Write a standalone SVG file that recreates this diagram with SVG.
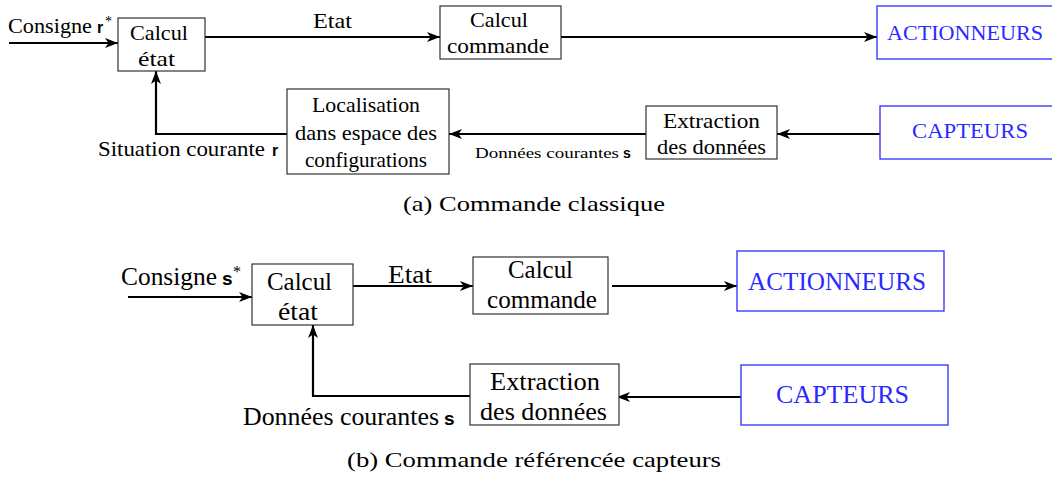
<svg xmlns="http://www.w3.org/2000/svg" width="1052" height="479" viewBox="0 0 1052 479">
  <style>
    .box { fill: #fff; stroke: #333; stroke-width: 1.2; }
    .bbox { fill: #fff; stroke: #3b3bff; stroke-width: 1.4; }
    .t { font-family: "Liberation Serif", "Times New Roman", serif; fill: #000; }
    .bt { font-family: "Liberation Serif", "Times New Roman", serif; fill: #2a2aff; }
    .v { font-family: "Liberation Sans", Arial, sans-serif; font-weight: bold; }
    .s1 { font-size: 21px; }
    .s2 { font-size: 25px; }
    .sm { font-size: 15px; }
    .c { text-anchor: middle; }
    .wire { fill: none; stroke: #000; stroke-width: 2.2; }
  </style>
  <defs>
    <marker id="arr" viewBox="0 0 13 10" refX="13" refY="5" markerWidth="13" markerHeight="10" orient="auto" markerUnits="userSpaceOnUse">
      <path d="M0,0 L13,5 L0,10 L3.5,5 z" fill="#000"/>
    </marker>
  </defs>

  <!-- ===== (a) classic control ===== -->
  <g id="connectors-a">
    <line class="wire" x1="9" y1="43" x2="118" y2="43" marker-end="url(#arr)"/>
    <line class="wire" x1="205" y1="37" x2="440" y2="37" marker-end="url(#arr)"/>
    <line class="wire" x1="561" y1="37" x2="877" y2="37" marker-end="url(#arr)"/>
    <line class="wire" x1="880" y1="134" x2="777" y2="134" marker-end="url(#arr)"/>
    <line class="wire" x1="646" y1="134" x2="449" y2="134" marker-end="url(#arr)"/>
    <polyline class="wire" points="287,134 156,134 156,71" marker-end="url(#arr)"/>
  </g>

  <g id="labels-a">
    <text class="t s1" x="8" y="33" textLength="84" lengthAdjust="spacingAndGlyphs">Consigne</text>
    <text class="v" x="97" y="33" font-size="16">r</text>
    <text class="t" x="105" y="26" font-size="14">*</text>
    <text class="t s1" x="313" y="28" textLength="39" lengthAdjust="spacingAndGlyphs">Etat</text>
    <text class="t s1" x="98" y="156" textLength="167" lengthAdjust="spacingAndGlyphs">Situation courante</text>
    <text class="v" x="272" y="156" font-size="16">r</text>
    <text class="t sm" x="475" y="158" textLength="144" lengthAdjust="spacingAndGlyphs">Données courantes</text>
    <text class="v" x="623" y="158" font-size="14">s</text>
  </g>

  <g id="calcul-etat-a">
    <rect class="box" x="118" y="18" width="87" height="53"/>
    <text class="t s1" x="130" y="40" textLength="58" lengthAdjust="spacingAndGlyphs">Calcul</text>
    <text class="t s1" x="138" y="66" textLength="37" lengthAdjust="spacingAndGlyphs">état</text>
  </g>
  <g id="calcul-commande-a">
    <rect class="box" x="440" y="6" width="121" height="53"/>
    <text class="t s1" x="470" y="27" textLength="58" lengthAdjust="spacingAndGlyphs">Calcul</text>
    <text class="t s1" x="447" y="53" textLength="102" lengthAdjust="spacingAndGlyphs">commande</text>
  </g>
  <g id="actionneurs-a">
    <rect class="bbox" x="877" y="6" width="180" height="53"/>
    <text class="bt s1" x="887" y="40" textLength="156" lengthAdjust="spacingAndGlyphs">ACTIONNEURS</text>
  </g>
  <g id="capteurs-a">
    <rect class="bbox" x="880" y="106" width="180" height="53"/>
    <text class="bt s1" x="912" y="138" textLength="116" lengthAdjust="spacingAndGlyphs">CAPTEURS</text>
  </g>
  <g id="extraction-a">
    <rect class="box" x="646" y="106" width="131" height="53"/>
    <text class="t s1" x="663" y="128" textLength="97" lengthAdjust="spacingAndGlyphs">Extraction</text>
    <text class="t s1" x="657" y="154" textLength="109" lengthAdjust="spacingAndGlyphs">des données</text>
  </g>
  <g id="localisation-a">
    <rect class="box" x="287" y="89" width="162" height="85"/>
    <text class="t s1" x="312" y="112" textLength="108" lengthAdjust="spacingAndGlyphs">Localisation</text>
    <text class="t s1" x="295" y="140" textLength="142" lengthAdjust="spacingAndGlyphs">dans espace des</text>
    <text class="t s1" x="305" y="167" textLength="122" lengthAdjust="spacingAndGlyphs">configurations</text>
  </g>
  <text id="caption-a" class="t" x="403" y="211" font-size="21" textLength="262" lengthAdjust="spacingAndGlyphs">(a) Commande classique</text>

  <!-- ===== (b) sensor-referenced control ===== -->
  <g id="connectors-b">
    <line class="wire" x1="128" y1="297" x2="252" y2="297" marker-end="url(#arr)"/>
    <line class="wire" x1="353" y1="286" x2="473" y2="286" marker-end="url(#arr)"/>
    <line class="wire" x1="612" y1="286" x2="737" y2="286" marker-end="url(#arr)"/>
    <line class="wire" x1="741" y1="397" x2="617" y2="397" marker-end="url(#arr)"/>
    <polyline class="wire" points="470,396 313,396 313,325" marker-end="url(#arr)"/>
  </g>

  <g id="labels-b">
    <text class="t s2" x="121" y="285" textLength="96" lengthAdjust="spacingAndGlyphs">Consigne</text>
    <text class="v" x="222" y="285" font-size="19">s</text>
    <text class="t" x="233" y="277" font-size="16">*</text>
    <text class="t s2" x="388" y="283" textLength="44" lengthAdjust="spacingAndGlyphs">Etat</text>
    <text class="t s2" x="243" y="425" textLength="196" lengthAdjust="spacingAndGlyphs">Données courantes</text>
    <text class="v" x="444" y="425" font-size="19">s</text>
  </g>

  <g id="calcul-etat-b">
    <rect class="box" x="252" y="264" width="101" height="61"/>
    <text class="t s2" x="267" y="290" textLength="65" lengthAdjust="spacingAndGlyphs">Calcul</text>
    <text class="t s2" x="278" y="320" textLength="40" lengthAdjust="spacingAndGlyphs">état</text>
  </g>
  <g id="calcul-commande-b">
    <rect class="box" x="473" y="257" width="135" height="57"/>
    <text class="t s2" x="508" y="278" textLength="65" lengthAdjust="spacingAndGlyphs">Calcul</text>
    <text class="t s2" x="487" y="308" textLength="110" lengthAdjust="spacingAndGlyphs">commande</text>
  </g>
  <g id="actionneurs-b">
    <rect class="bbox" x="737" y="251" width="207" height="60"/>
    <text class="bt s2" x="748" y="290" textLength="178" lengthAdjust="spacingAndGlyphs">ACTIONNEURS</text>
  </g>
  <g id="capteurs-b">
    <rect class="bbox" x="741" y="365" width="207" height="60"/>
    <text class="bt s2" x="776" y="403" textLength="133" lengthAdjust="spacingAndGlyphs">CAPTEURS</text>
  </g>
  <g id="extraction-b">
    <rect class="box" x="470" y="364" width="149" height="61"/>
    <text class="t s2" x="490" y="390" textLength="110" lengthAdjust="spacingAndGlyphs">Extraction</text>
    <text class="t s2" x="480" y="420" textLength="127" lengthAdjust="spacingAndGlyphs">des données</text>
  </g>
  <text id="caption-b" class="t" x="347" y="467" font-size="21" textLength="374" lengthAdjust="spacingAndGlyphs">(b) Commande référencée capteurs</text>
</svg>
